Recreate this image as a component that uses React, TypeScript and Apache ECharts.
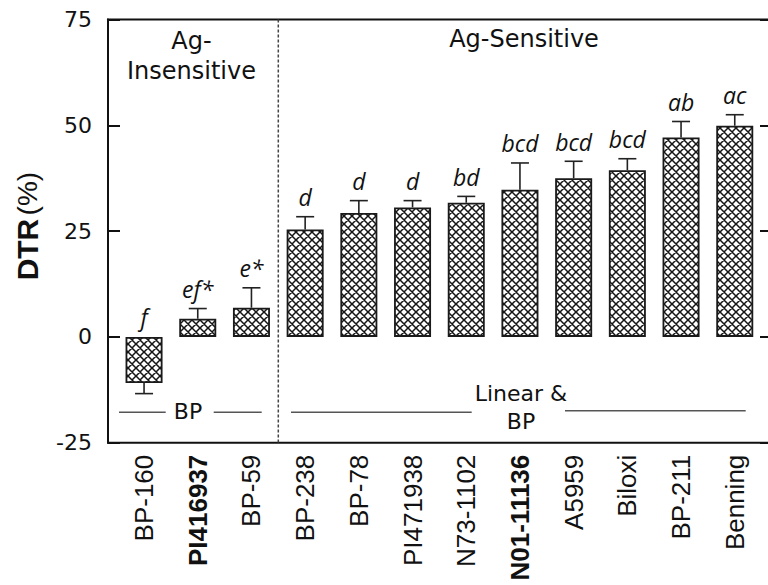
import React, { useEffect, useRef } from "react";
import * as echarts from "echarts";

const categories = ["BP-160", "PI416937", "BP-59", "BP-238", "BP-78", "PI471938", "N73-1102", "N01-11136", "A5959", "Biloxi", "BP-211", "Benning"];
const boldCategories = ["PI416937", "N01-11136"];
const dtrValues = [-10.9, 4.3, 6.9, 25.4, 29.3, 30.6, 31.7, 34.8, 37.5, 39.4, 47.1, 49.9];
const errValues = [2.5, 2.4, 4.7, 3.0, 2.9, 1.6, 1.5, 6.3, 4.0, 2.7, 3.8, 2.6];
const sigLetters = ["f", "ef*", "e*", "d", "d", "d", "bd", "bcd", "bcd", "bcd", "ab", "ac"];
const yTicks = { min: -25, max: 75, interval: 25 };

const SANS = "'Liberation Sans', Arial, sans-serif";
const WIDE = "'DejaVu Sans', sans-serif";

function makePattern() {
  const c = document.createElement("canvas");
  c.width = 8;
  c.height = 8;
  const ctx = c.getContext("2d")!;
  ctx.fillStyle = "#ffffff";
  ctx.fillRect(0, 0, 8, 8);
  ctx.strokeStyle = "#151515";
  ctx.lineWidth = 1.5;
  ctx.beginPath();
  ctx.moveTo(-2, -2);
  ctx.lineTo(10, 10);
  ctx.moveTo(10, -2);
  ctx.lineTo(-2, 10);
  ctx.moveTo(6, -2);
  ctx.lineTo(10, 2);
  ctx.moveTo(-2, 6);
  ctx.lineTo(2, 10);
  ctx.moveTo(2, -2);
  ctx.lineTo(-2, 2);
  ctx.moveTo(10, 6);
  ctx.lineTo(6, 10);
  ctx.stroke();
  return { image: c, repeat: "repeat", imageWidth: 8, imageHeight: 8 };
}

export default function App() {
  const ref = useRef<HTMLDivElement>(null);
  useEffect(() => {
    document.body.style.margin = "0";
    const chart = echarts.init(ref.current!, null, { renderer: "svg" });
    const gridTop = 19.5;
    const gridBottom = 142.3;
    const gridLeft = 117.2;
    const gridRight = 6.4;
    const band = (768 - gridLeft - gridRight) / categories.length;
    const dividerX = gridLeft + band * 3;
    const lineStyle = { stroke: "#555", lineWidth: 1.5 };
    const txt = (text: string, x: number, y: number, size: number, va = "middle") => ({
      type: "text",
      style: {
        text, x, y, font: `${size}px ${WIDE}`, fill: "#111",
        align: "center", textAlign: "center", verticalAlign: va, textVerticalAlign: va,
      },
    });
    const option: any = {
      animation: false,
      grid: [
        { left: gridLeft, right: gridRight, top: gridTop, bottom: gridBottom, outerBoundsMode: "none" },
        { left: 108, right: -3, top: gridTop, bottom: gridBottom, show: true, borderColor: "#111", borderWidth: 2, backgroundColor: "transparent", outerBoundsMode: "none" },
      ],
      xAxis: [
        {
          type: "category",
          gridIndex: 0,
          data: categories,
          axisLine: { show: false },
          axisTick: { show: false },
          axisLabel: {
            rotate: 90,
            margin: 12,
            interval: 0,
            formatter: (v: string) => (boldCategories.includes(v) ? `{b|${v}}` : `{n|${v}}`),
            rich: {
              b: { fontFamily: SANS, fontSize: 26, fontWeight: "bold", color: "#111" },
              n: { fontFamily: SANS, fontSize: 26, color: "#111" },
            },
          },
        },
        { type: "value", gridIndex: 1, show: false, min: 0, max: 1 },
      ],
      yAxis: [
        {
          type: "value",
          gridIndex: 0,
          position: "left",
          offset: gridLeft - 108,
          min: yTicks.min,
          max: yTicks.max,
          interval: yTicks.interval,
          axisLine: { show: true, lineStyle: { color: "#111", width: 2 } },
          axisTick: { show: true, inside: true, length: 12, lineStyle: { color: "#111", width: 2 } },
          axisLabel: { margin: 16, fontFamily: WIDE, fontSize: 22, color: "#111" },
          splitLine: { show: false },
          name: "{b|DTR} {n|(%)}",
          nameLocation: "middle",
          nameGap: 66,
          nameTextStyle: {
            padding: [0, 0, 0, 10],
            rich: {
              b: { fontFamily: SANS, fontSize: 30, fontWeight: "bold", color: "#111" },
              n: { fontFamily: SANS, fontSize: 28, color: "#111" },
            },
          },
        },
        {
          type: "value",
          gridIndex: 0,
          position: "right",
          offset: 9.4,
          min: yTicks.min,
          max: yTicks.max,
          interval: yTicks.interval,
          axisLine: { show: false },
          axisTick: { show: true, inside: true, length: 11, lineStyle: { color: "#111", width: 2 } },
          axisLabel: { show: false },
          splitLine: { show: false },
        },
        { type: "value", gridIndex: 1, show: false, min: 0, max: 1 },
      ],
      series: [
        {
          type: "bar",
          xAxisIndex: 0,
          yAxisIndex: 0,
          data: dtrValues,
          barWidth: 37,
          itemStyle: { color: makePattern(), borderColor: "#1a1a1a", borderWidth: 1.8 },
        },
        {
          type: "custom",
          xAxisIndex: 0,
          yAxisIndex: 0,
          data: dtrValues.map((v, i) => [i, v, errValues[i]]),
          encode: { x: 0, y: 1 },
          z: 5,
          renderItem: (params: any, api: any) => {
            const i = api.value(0);
            const v = api.value(1);
            const e = api.value(2);
            const end = v >= 0 ? v + e : v - e;
            const p0 = api.coord([i, v]);
            const p1 = api.coord([i, end]);
            const ly = api.coord([i, Math.max(0, end)])[1];
            const st = { stroke: "#222", lineWidth: 1.6 };
            return {
              type: "group",
              children: [
                { type: "line", shape: { x1: p0[0], y1: p0[1], x2: p1[0], y2: p1[1] }, style: st },
                { type: "line", shape: { x1: p1[0] - 9, y1: p1[1], x2: p1[0] + 9, y2: p1[1] }, style: st },
                {
                  type: "text",
                  style: {
                    text: sigLetters[i], x: p0[0], y: ly - 8,
                    font: `italic 23px 'Open Sans', sans-serif`, fill: "#111",
                    align: "center", textAlign: "center", verticalAlign: "bottom", textVerticalAlign: "bottom",
                  },
                },
              ],
            };
          },
        },
      ],
      graphic: [
        { type: "line", shape: { x1: dividerX, y1: gridTop, x2: dividerX, y2: 585 - gridBottom }, style: { stroke: "#444", lineWidth: 1.5, lineDash: [3, 2] } },
        txt("Ag-", 191.5, 29, 24, "top"),
        txt("Insensitive", 191.5, 59, 24, "top"),
        txt("Ag-Sensitive", 524, 27, 24, "top"),
        txt("BP", 188, 411.5, 22),
        txt("Linear &", 521, 393.5, 22),
        txt("BP", 521, 421, 22),
        { type: "line", shape: { x1: 119, y1: 412.3, x2: 165.7, y2: 412.3 }, style: lineStyle },
        { type: "line", shape: { x1: 213.7, y1: 412.3, x2: 261.7, y2: 412.3 }, style: lineStyle },
        { type: "line", shape: { x1: 291, y1: 412.3, x2: 471.7, y2: 412.3 }, style: lineStyle },
        { type: "line", shape: { x1: 565, y1: 410.7, x2: 745.7, y2: 410.7 }, style: lineStyle },
      ],
    };
    chart.setOption(option);
    return () => chart.dispose();
  }, []);
  return <div ref={ref} style={{ width: 768, height: 585, background: "#fff" }} />;
}
